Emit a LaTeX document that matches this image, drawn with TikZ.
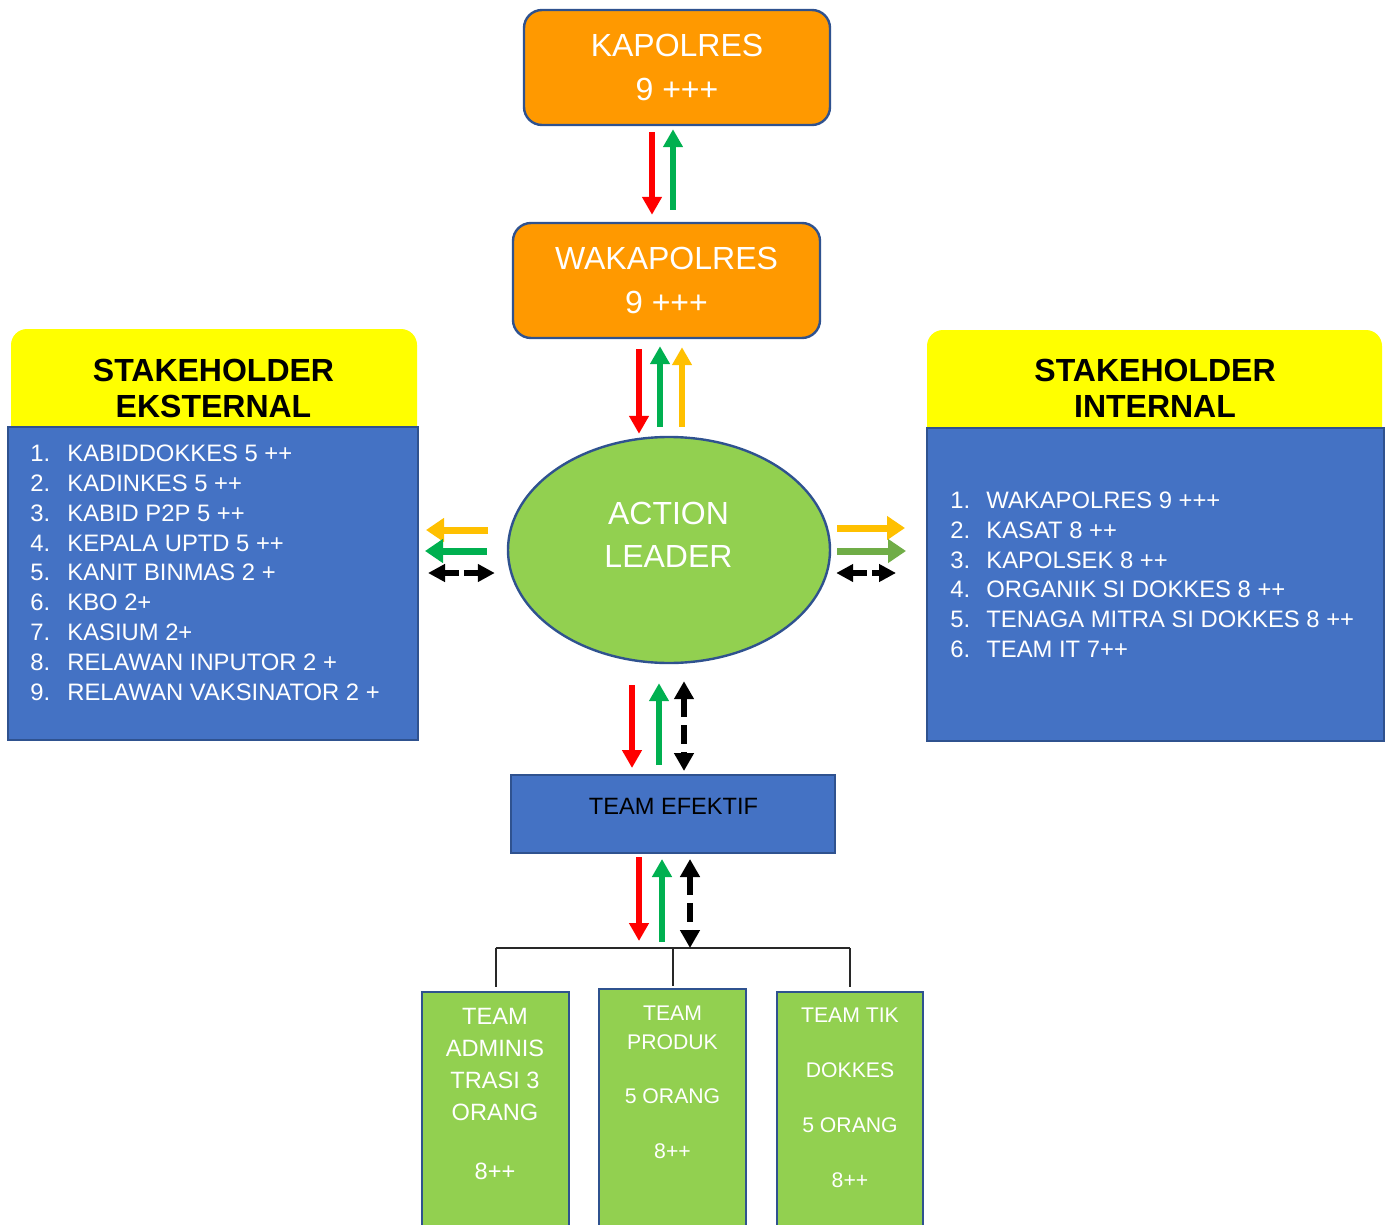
\documentclass[tikz,border=0pt]{standalone}
\usepackage{fontspec}
\setmainfont{Liberation Sans}
\usetikzlibrary{arrows.meta,shapes.geometric,calc}
\definecolor{bord}{HTML}{2F528F}
\definecolor{orng}{HTML}{FF9900}
\definecolor{bblue}{HTML}{4472C4}
\definecolor{lgreen}{HTML}{92D050}
\definecolor{agreen}{HTML}{00B050}
\definecolor{ayellow}{HTML}{FFC000}
\definecolor{aolive}{HTML}{70AD47}
\definecolor{ared}{HTML}{FF0000}
\definecolor{hyellow}{HTML}{FFFF00}
\begin{document}
\begin{tikzpicture}[x=0.5pt,y=-0.5pt,
  obox/.style={draw=bord,line width=1.2pt,fill=orng,rounded corners=9pt,minimum height=57.5pt,inner sep=0pt,text=white,align=center,font=\fontsize{16}{22}\selectfont},
  ybox/.style={fill=hyellow,draw=none,rounded corners=8pt,inner sep=0pt},
  bbox/.style={fill=bblue,draw=bord,line width=1pt,inner sep=0pt},
  gbox/.style={fill=lgreen,draw=bord,line width=1.4pt,inner sep=0pt},
  htext/.style={inner sep=0pt,align=center,font=\bfseries\fontsize{16}{18}\selectfont,text=black},
  wtext/.style={inner sep=0pt,align=center,text=white},
  item/.style={inner sep=0pt,anchor=base west,text=white,font=\fontsize{11.9}{14}\selectfont},
  varr/.style={line width=3.3pt,-{Triangle[width=9.5pt,length=9pt]}},
  harr/.style={line width=3.5pt,-{Triangle[width=11.5pt,length=9pt]}},
  vdash/.style={line width=3.2pt,black,{Triangle[width=9.5pt,length=9pt]}-{Triangle[width=9.5pt,length=9pt]},dash pattern=on 9.5pt off 4pt},
  hdash/.style={line width=3.2pt,black,{Triangle[width=8.5pt,length=8.5pt]}-{Triangle[width=8.5pt,length=8.5pt]},dash pattern=on 7.5pt off 2.5pt},
  conn/.style={line width=1pt,draw={rgb,255:red,40;green,40;blue,40}}
]
\useasboundingbox (0,0) rectangle (1391,1225);
\clip (0,0) rectangle (1391,1225);

% top boxes
\node[obox,minimum width=153pt] (kap) at (677,67.5) {KAPOLRES\\9 +++};
\node[obox,minimum width=153.5pt] (wak) at (666.5,280.5) {WAKAPOLRES\\9 +++};

% action leader
\node[ellipse,draw=bord,line width=1.2pt,fill=lgreen,minimum width=161pt,minimum height=113pt,inner sep=0pt] (al) at (669,550) {};
\node[wtext,font=\fontsize{16}{21.5}\selectfont] (alt) at (668.5,534.5) {ACTION\\LEADER};

% stakeholder eksternal
\node[ybox,minimum width=203pt,minimum height=65.5pt] (ekh) at (214,394.5) {};
\node[bbox,minimum width=205pt,minimum height=156.5pt] (ekl) at (213,583.5) {};
\node[htext] (ekt) at (213.5,388) {STAKEHOLDER\\EKSTERNAL};
\foreach \t [count=\i] in {KABIDDOKKES 5 ++,KADINKES 5 ++,KABID P2P 5 ++,KEPALA UPTD 5 ++,KANIT BINMAS 2 +,KBO 2+,KASIUM 2+,RELAWAN INPUTOR 2 +,RELAWAN VAKSINATOR 2 +}
  \node[item] (e\i) at (30,{461.7+(\i-1)*29.8}) {\makebox[18.5pt][l]{\i.}\t};

% stakeholder internal
\node[ybox,minimum width=227.5pt,minimum height=65pt] (inh) at (1154.5,395) {};
\node[bbox,minimum width=228.5pt,minimum height=156.5pt] (inl) at (1155.5,584.5) {};
\node[htext] (intt) at (1155,388.5) {STAKEHOLDER\\INTERNAL};
\foreach \t [count=\i] in {WAKAPOLRES 9 +++,KASAT 8 ++,KAPOLSEK 8 ++,ORGANIK SI DOKKES 8 ++,TENAGA MITRA SI DOKKES 8 ++,TEAM IT 7++}
  \node[item] (n\i) at (950,{508.5+(\i-1)*29.8}) {\makebox[18pt][l]{\i.}\t};

% team efektif
\node[bbox,minimum width=162pt,minimum height=39pt] (te) at (673,814) {};
\node[inner sep=0pt,font=\fontsize{11.8}{14}\selectfont] (tet) at (673.5,806) {TEAM EFEKTIF};

% green team boxes
\node[gbox,minimum width=73.5pt,minimum height=124pt] (g1) at (495.5,1116) {};
\node[gbox,minimum width=73.5pt,minimum height=125.5pt] (g2) at (672.5,1114.5) {};
\node[gbox,minimum width=73pt,minimum height=124pt] (g3) at (850,1116) {};
\node[wtext,font=\fontsize{11.8}{16}\selectfont] (g1t) at (495,1093.5) {TEAM\\ADMINIS\\TRASI 3\\ORANG\\[13.5pt]8++};
\node[wtext,font=\fontsize{10.6}{14.5}\selectfont] (g2t) at (672.5,1082) {TEAM\\PRODUK\\[12.5pt]5 ORANG\\[13pt]8++};
\node[wtext,font=\fontsize{10.6}{27.5}\selectfont] (g3t) at (850,1098) {TEAM TIK\\DOKKES\\5 ORANG\\8++};

% connectors to team boxes
\coordinate (bus) at (0,948);
\draw[conn] (g1.north |- bus) -- (g3.north |- bus);
\draw[conn] ([yshift=2pt]g1.north) -- (g1.north |- bus);
\draw[conn] ([yshift=1pt]g2.north) -- (g2.north |- bus);
\draw[conn] ([yshift=2pt]g3.north) -- (g3.north |- bus);

% arrows kapolres - wakapolres
\draw[varr,ared,shorten <=3pt,shorten >=3.5pt] (kap.south -| 652,0) -- (wak.north -| 652,0);
\draw[varr,agreen,shorten <=6pt,shorten >=1.5pt] (wak.north -| 673,0) -- (kap.south -| 673,0);

% arrows wakapolres - action leader
\draw[varr,ared,shorten <=5pt,shorten >=1pt] (wak.south -| 639,0) -- (al.north -| 639,0);
\draw[varr,agreen,shorten <=4.5pt,shorten >=3.5pt] (al.north -| 660,0) -- (wak.south -| 660,0);
\draw[varr,ayellow,shorten <=4.5pt,shorten >=4pt] (al.north -| 682,0) -- (wak.south -| 682,0);

% left arrows
\draw[harr,ayellow,shorten <=9.5pt,shorten >=3.5pt] (al.west |- 0,530) -- (ekl.east |- 0,530);
\draw[harr,agreen,shorten <=10pt,shorten >=3pt] (al.west |- 0,551) -- (ekl.east |- 0,551);
\draw[hdash,shorten <=4.5pt,shorten >=6pt] (ekl.east |- 0,573) -- (al.west |- 0,573);

% right arrows
\draw[harr,ayellow,shorten <=3pt,shorten >=10.5pt] (al.east |- 0,528) -- (inl.west |- 0,528);
\draw[harr,aolive,shorten <=3pt,shorten >=10pt] (al.east |- 0,551) -- (inl.west |- 0,551);
\draw[hdash,shorten <=2.5pt,shorten >=15pt] (al.east |- 0,573) -- (inl.west |- 0,573);

% arrows action leader - team efektif
\draw[varr,ared,shorten <=10.5pt,shorten >=3pt] (al.south -| 632,0) -- (te.north -| 632,0);
\draw[varr,agreen,shorten <=4.5pt,shorten >=9.5pt] (te.north -| 659,0) -- (al.south -| 659,0);
\draw[vdash,shorten <=8.5pt,shorten >=1.5pt] (al.south -| 684,0) -- (te.north -| 684,0);

% arrows team efektif - teams
\draw[varr,ared,shorten <=1.5pt] (te.south -| 639,0) -- (639,941);
\draw[varr,agreen,shorten >=2.5pt] (662,942) -- (te.south -| 662,0);
\draw[vdash,shorten <=2.5pt] (te.south -| 690,0) -- (bus -| 690,0);
\end{tikzpicture}
\end{document}
